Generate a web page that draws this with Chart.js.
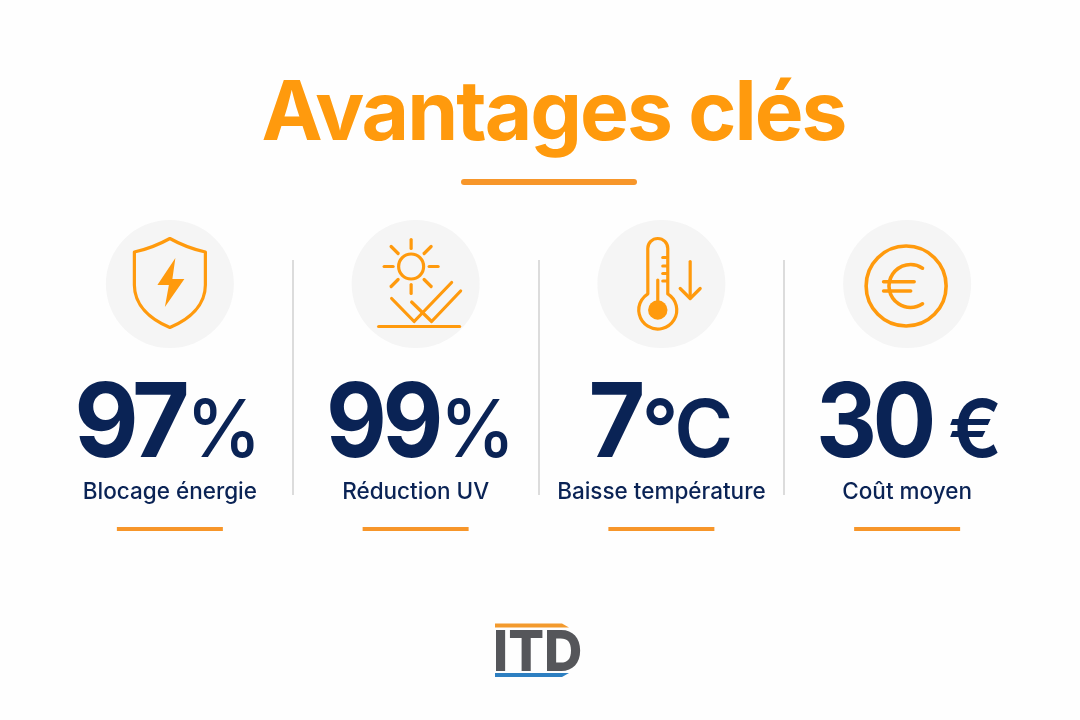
<!DOCTYPE html>
<html lang="fr">
<head>
<meta charset="utf-8">
<title>Avantages clés</title>
<script src="https://cdn.jsdelivr.net/npm/chart.js@4/dist/chart.umd.min.js"></script>
<style>
  html, body { margin: 0; padding: 0; background: #fefefe; }
  #wrap { width: 1080px; height: 720px; }
</style>
</head>
<body>
<div id="wrap"><canvas id="kpiChart" width="1080" height="720"></canvas></div>
<script>
const categories = ['Blocage énergie', 'Réduction UV', 'Baisse température', 'Coût moyen'];
const values = [97, 99, 7, 30];
const units = ['%', '%', '°C', '€'];
const titleText = 'Avantages clés';
const logoText = 'ITD';

const ORANGE = '#ff9a0d';
const RULE = '#f7962a';
const NAVY = '#0a2355';
const FONT = 'Inter, "Noto Sans", sans-serif';

// y positions of the decorations, in y-axis units (axis matches the page height)
const haloY = categories.map(() => 284);
const ruleY = categories.map(() => 529);
const unitGap = [1, 1, 1, 16];
const unitSpacing = ['0px', '0px', '-3px', '0px'];
const numberShift = [-2, 5, -2, 2];
const numberSqueeze = [0.965, 0.91, 0.95, 0.92];
const unitSqueeze = [0.95, 0.95, 1, 1];

function line(ctx, pts) {
  ctx.beginPath();
  pts.forEach((p, i) => (i ? ctx.lineTo(p[0], p[1]) : ctx.moveTo(p[0], p[1])));
  ctx.stroke();
}

function squeezedText(ctx, text, x, y, sx) {
  ctx.save();
  ctx.translate(x, y);
  ctx.scale(sx, 1);
  ctx.fillText(text, 0, 0);
  ctx.restore();
}

// icons are drawn around the column centre, y values are page pixels
const icons = [
  (ctx) => {
    ctx.beginPath();
    ctx.moveTo(0, 238.5);
    ctx.quadraticCurveTo(17, 248, 35.5, 252);
    ctx.lineTo(35.5, 285);
    ctx.bezierCurveTo(35.5, 305, 20, 319, 0, 327.5);
    ctx.bezierCurveTo(-20, 319, -35.5, 305, -35.5, 285);
    ctx.lineTo(-35.5, 252);
    ctx.quadraticCurveTo(-17, 248, 0, 238.5);
    ctx.closePath();
    ctx.stroke();
    ctx.beginPath();
    ctx.moveTo(5.5, 258);
    ctx.lineTo(-12.5, 285);
    ctx.lineTo(-1, 285);
    ctx.lineTo(-5, 307);
    ctx.lineTo(14.5, 279);
    ctx.lineTo(2.5, 279);
    ctx.closePath();
    ctx.fill();
  },
  (ctx) => {
    ctx.beginPath();
    ctx.arc(-4.5, 266.5, 12.5, 0, Math.PI * 2);
    ctx.stroke();
    const rays = [[0, -27, 0, -18], [0, 18, 0, 27], [-27, 0, -18, 0], [18, 0, 27, 0],
      [-20, -20, -13, -13], [20, -20, 13, -13], [-20, 20, -13, 13], [20, 20, 13, 13]];
    rays.forEach((r) => line(ctx, [[r[0] - 4.5, r[1] + 266.5], [r[2] - 4.5, r[3] + 266.5]]));
    line(ctx, [[-24, 298.5], [-1.5, 321.5], [36, 282.5]]);
    line(ctx, [[-4, 302], [16, 321.5], [45, 291]]);
    line(ctx, [[-37, 326.5], [44, 326.5]]);
  },
  (ctx) => {
    const cx = -3.6;
    ctx.beginPath();
    ctx.arc(cx, 248.5, 10, Math.PI, 0);
    ctx.lineTo(cx + 10, 294);
    ctx.arc(cx, 310, 19, -Math.PI / 2 + 0.55, -Math.PI / 2 - 0.55 + Math.PI * 2);
    ctx.lineTo(cx - 10, 248.5);
    ctx.stroke();
    ctx.beginPath();
    ctx.arc(cx, 310, 9.7, 0, Math.PI * 2);
    ctx.fill();
    line(ctx, [[cx, 280], [cx, 310]]);
    [257.5, 266, 273.5, 281].forEach((y) => line(ctx, [[cx + 5, y], [cx + 9, y]]));
    line(ctx, [[28.8, 261.5], [28.8, 298]]);
    line(ctx, [[18.8, 288.5], [28.8, 298.5], [38.8, 288.5]]);
  },
  (ctx) => {
    ctx.lineWidth = 3.6;
    ctx.beginPath();
    ctx.arc(-1, 286, 40, 0, Math.PI * 2);
    ctx.stroke();
    ctx.beginPath();
    ctx.arc(3.4, 286, 21.5, -0.98, 0.98, true);
    ctx.stroke();
    line(ctx, [[-23.5, 281.7], [7, 281.7]]);
    line(ctx, [[-23.5, 291], [3.5, 291]]);
  },
];

const infographic = {
  id: 'infographic',
  afterDatasetsDraw(chart) {
    const { ctx, scales } = chart;
    ctx.save();

    // title and its rule
    ctx.fillStyle = ORANGE;
    ctx.font = '700 82px ' + FONT;
    ctx.textAlign = 'center';
    ctx.textBaseline = 'alphabetic';
    ctx.letterSpacing = '-2px';
    ctx.fillText(titleText, 553.5, 140);
    ctx.letterSpacing = '0px';
    ctx.textAlign = 'left';
    ctx.strokeStyle = RULE;
    ctx.lineCap = 'round';
    ctx.lineWidth = 6;
    line(ctx, [[464, 182], [634, 182]]);

    chart.data.datasets[0].data.forEach((value, i) => {
      const cx = scales.x.getPixelForValue(i);

      // icon
      ctx.save();
      ctx.translate(cx, 0);
      ctx.strokeStyle = ORANGE;
      ctx.fillStyle = ORANGE;
      ctx.lineWidth = 3.2;
      ctx.lineJoin = 'round';
      ctx.lineCap = 'round';
      icons[i](ctx);
      ctx.restore();

      // big number + unit
      ctx.fillStyle = NAVY;
      const numFont = '700 103px ' + FONT;
      const unitFont = (i < 2 ? '500' : '600') + ' 80px ' + FONT;
      ctx.font = numFont;
      ctx.letterSpacing = '-5px';
      const numW = ctx.measureText(String(value)).width * numberSqueeze[i];
      ctx.font = unitFont;
      ctx.letterSpacing = unitSpacing[i];
      const unitW = ctx.measureText(units[i]).width * unitSqueeze[i];
      const left = cx + numberShift[i] - (numW + unitGap[i] + unitW) / 2;
      ctx.font = numFont;
      ctx.letterSpacing = '-5px';
      squeezedText(ctx, String(value), left, 457, numberSqueeze[i]);
      ctx.font = unitFont;
      ctx.letterSpacing = unitSpacing[i];
      squeezedText(ctx, units[i], left + numW + unitGap[i], 457, unitSqueeze[i]);
    });

    // logo
    ctx.fillStyle = '#55565a';
    ctx.font = '800 57px ' + FONT;
    ctx.letterSpacing = '0px';
    squeezedText(ctx, logoText, 493, 671, 0.93);
    ctx.fillStyle = '#f39a2d';
    ctx.beginPath();
    ctx.moveTo(495, 623.5);
    ctx.lineTo(562, 623.5);
    ctx.lineTo(569, 627.5);
    ctx.lineTo(495, 627.5);
    ctx.fill();
    ctx.fillStyle = '#2d7fc1';
    ctx.beginPath();
    ctx.moveTo(495, 673);
    ctx.lineTo(569, 673);
    ctx.lineTo(562, 677);
    ctx.lineTo(495, 677);
    ctx.fill();
    ctx.restore();
  },
};

new Chart(document.getElementById('kpiChart'), {
  type: 'line',
  data: {
    labels: categories,
    datasets: [
      { label: 'Valeurs', data: values, yAxisID: 'yValue', showLine: false, pointRadius: 0 },
      { label: 'Fonds', data: haloY, showLine: false, clip: false, pointRadius: 64, pointHoverRadius: 64,
        pointBackgroundColor: '#f5f5f5', pointBorderWidth: 0 },
      { label: 'Filets', data: ruleY, showLine: false, clip: false, pointStyle: 'line', pointRadius: 53,
        pointBorderColor: RULE, pointBorderWidth: 4 },
    ],
  },
  options: {
    responsive: false,
    animation: false,
    devicePixelRatio: 1,
    layout: { autoPadding: false, padding: { left: 47, right: 50, top: 260, bottom: 201 } },
    plugins: {
      legend: { display: false },
      tooltip: { enabled: false },
    },
    scales: {
      x: {
        offset: true,
        border: { display: false },
        afterFit: (scale) => {
          // labels sit beside the separators, so no room is kept for them
          scale.height = 40;
          scale.paddingLeft = 0;
          scale.paddingRight = 0;
        },
        grid: {
          offset: true,
          tickLength: 16,
          lineWidth: 2,
          tickWidth: 2,
          color: (c) => (c.index === 0 || c.index === undefined ? 'rgba(0,0,0,0)' : '#dcdcdc'),
          tickColor: (c) => (c.index === 0 || c.index === undefined ? 'rgba(0,0,0,0)' : '#dcdcdc'),
        },
        ticks: {
          autoSkip: false,
          maxRotation: 0,
          padding: -16,
          color: NAVY,
          font: { family: FONT, size: 22.5, weight: '500' },
        },
      },
      y: { display: false, reverse: true, min: 260, max: 479 },
      yValue: { display: false, min: 0, max: 100 },
    },
  },
  plugins: [infographic],
});
</script>
</body>
</html>
